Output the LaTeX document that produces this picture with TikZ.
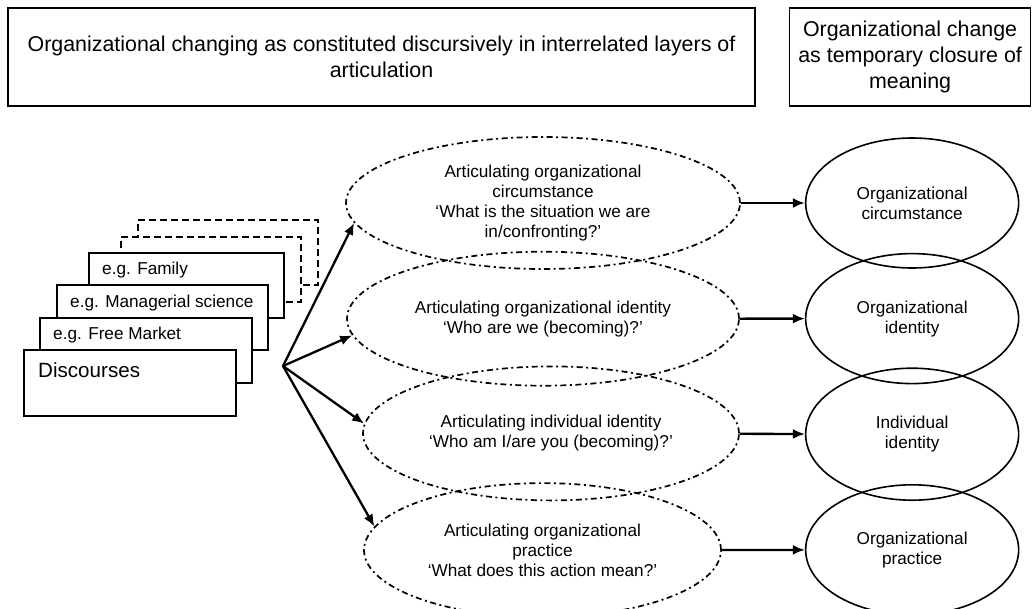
\documentclass[tikz,border=0pt]{standalone}
\usepackage{fontspec}
\setmainfont{Liberation Sans}
\usetikzlibrary{positioning}
\usetikzlibrary{shapes.geometric}
\usetikzlibrary{arrows.meta}
\tikzset{%
	>={Latex[width=10pt,length=12pt]},
	% Specifications for style of nodes:
	base/.style = {draw=black, line width=1.6pt, text centered, inner sep=0pt},
	layer/.style = {base, rectangle, minimum height=98pt, align=center, font=\fontsize{21.4}{26}\selectfont},
	discourse/.style = {base, rectangle, fill=white, anchor=north west, minimum height=65pt},
	hidden/.style = {discourse, line width=1.8pt, dash pattern=on 7pt off 4pt},
	tag/.style = {anchor=west, inner sep=0pt, font=\fontsize{17.2}{20}\selectfont},
	articulation/.style = {base, ellipse, line width=1.7pt, dash pattern=on 6pt off 3.5pt on 2pt off 3.5pt, align=center, font=\fontsize{17.2}{20}\selectfont},
	closure/.style = {base, ellipse, minimum width=213pt, minimum height=130pt, align=center, font=\fontsize{17.2}{20}\selectfont},
	link/.style = {solid, line width=2.3pt},
}

\begin{document}
\begin{tikzpicture}[x=1pt,y=-1pt]
	\useasboundingbox (0,0) rectangle (1033,608);
	\node (Layers) [layer, minimum width=747pt] at (381.5,57) {Organizational changing as constituted discursively in interrelated layers of\\articulation};
	\node (Closure) [layer, minimum width=241pt, right=33pt of Layers] {Organizational change\\as temporary closure of\\meaning};
	
	% stack of discourses, back to front
	\node (Hidden2) [hidden, minimum width=180pt] at (137,219) {};
	\node (Hidden1) [hidden, minimum width=180pt] at (120,236) {};
	\node (Family) [discourse, minimum width=195pt, label={[tag, xshift=14pt, yshift=-18pt]north west:e.g. Family}] at (88,252) {};
	\node (Managerial) [discourse, minimum width=211pt, label={[tag, xshift=14pt, yshift=-19pt]north west:e.g. Managerial science}] at (56,284) {};
	\node (Market) [discourse, minimum width=212pt, label={[tag, xshift=14pt, yshift=-18pt]north west:e.g. Free Market}] at (39,317) {};
	\node (Discourses) [discourse, minimum width=212pt, minimum height=66pt, label={[tag, font=\fontsize{20.6}{24}\selectfont, xshift=15pt, yshift=-21pt]north west:Discourses}] at (23,349) {};
	\coordinate (fan) at (283,366);
	
	\node (Circumstance) [articulation, minimum width=394pt, minimum height=132pt] at (543,203) {Articulating organizational\\circumstance\\‘What is the situation we are\\in/confronting?’};
	\node (OrgIdentity) [articulation, minimum width=392pt, minimum height=134pt, below=-19pt of Circumstance] {Articulating organizational identity\\‘Who are we (becoming)?’};
	\node (IndIdentity) [articulation, minimum width=376pt, minimum height=134pt, below=-21pt of OrgIdentity, xshift=8pt] {Articulating individual identity\\‘Who am I/are you (becoming)?’};
	\node (Practice) [articulation, minimum width=357pt, minimum height=134pt, below=-19pt of IndIdentity, xshift=-8.5pt] {Articulating organizational\\practice\\‘What does this action mean?’};
	
	\node (MCirc) [closure, right=64pt of Circumstance] {Organizational\\circumstance};
	\node (MOrgId) [closure, below=-16pt of MCirc] {Organizational\\identity};
	\node (MIndId) [closure, minimum height=132pt, below=-17pt of MOrgId] {Individual\\identity};
	\node (MPractice) [closure, below=-17pt of MIndId] {Organizational\\practice};
	
	\draw [link,->] (fan) -- (Circumstance.186);
	\draw [link,->] (fan) -- (OrgIdentity.185);
	\draw [link,->] (fan) -- (IndIdentity.177);
	\draw [link,->] (fan) -- (Practice.172);
	
	\draw [link,->] (Circumstance) -- (MCirc);
	\draw [link,->] (OrgIdentity) -- (MOrgId);
	\draw [link,->] (IndIdentity) -- (MIndId);
	\draw [link,->] (Practice) -- (MPractice);
\end{tikzpicture}
\end{document}
